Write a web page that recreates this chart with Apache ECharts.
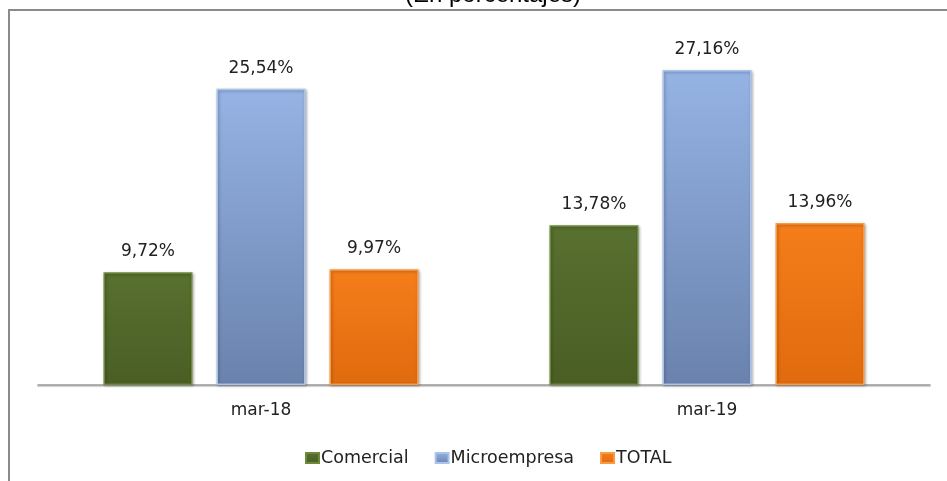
<!DOCTYPE html>
<html><head><meta charset="utf-8">
<script src="https://cdn.jsdelivr.net/npm/echarts@6/dist/echarts.min.js"></script>
<style>html,body{margin:0;padding:0;background:#fff}#c{width:947px;height:481px}</style>
</head><body><div id="c"></div>
<script>
var categories = ['mar-18', 'mar-19'];
var comercial = [9.72, 13.78];
var microempresa = [25.54, 27.16];
var total = [9.97, 13.96];
var seriesNames = ['Comercial', 'Microempresa', 'TOTAL'];

function grad(top, bottom) {
  return new echarts.graphic.LinearGradient(0, 0, 0, 1, [
    {offset: 0, color: top}, {offset: 1, color: bottom}
  ]);
}
function fmt(p) { return p.value.toFixed(2).replace('.', ',') + '%'; }
var FONT = 'DejaVu Sans';
var labelStyle = {show: true, position: 'top', distance: 12, formatter: fmt,
  fontFamily: FONT, fontSize: 17, color: '#222'};
function mk(name, data, top, bottom, border) {
  return {
    name: name, type: 'bar', data: data, barWidth: 89, barGap: '27%',
    itemStyle: {color: grad(top, bottom), borderColor: border, borderWidth: 1.5,
      shadowColor: 'rgba(0,0,0,0.3)', shadowBlur: 3, shadowOffsetX: 1, shadowOffsetY: 1},
    label: labelStyle
  };
}
var chart = echarts.init(document.getElementById('c'));
chart.setOption({
  animation: false,
  title: {text: '(En porcentajes)', left: 488, textAlign: 'center', top: -22,
    textStyle: {fontFamily: 'Liberation Sans', fontSize: 24, fontWeight: 'normal', color: '#000'}},
  graphic: [
    {type: 'polyline', shape: {points: [[9, 481], [9, 10], [947, 10]]},
     style: {stroke: '#8a8a8a', lineWidth: 2, fill: null}, silent: true, z: 100}
  ],
  grid: {left: 38, right: 17, top: 37, bottom: 96},
  legend: {
    data: seriesNames, top: 449, left: 305, itemWidth: 13, itemHeight: 10, itemGap: 26,
    padding: 0, icon: 'rect',
    textStyle: {fontFamily: FONT, fontSize: 17.5, color: '#222', padding: [0, 0, 0, -3]}
  },
  xAxis: {
    type: 'category', data: categories,
    axisLine: {lineStyle: {color: '#999', width: 1.5, shadowColor: 'rgba(0,0,0,0.25)', shadowOffsetY: 1, shadowBlur: 1}},
    axisTick: {show: false},
    axisLabel: {margin: 17, fontFamily: FONT, fontSize: 17, color: '#222'}
  },
  yAxis: {type: 'value', min: 0, max: 30, show: false, splitLine: {show: false}},
  series: [
    mk('Comercial', comercial, '#587030', '#4a5e24', '#6d8a3a'),
    mk('Microempresa', microempresa, '#95b3e4', '#6a82ad', '#a9c3ec'),
    mk('TOTAL', total, '#f57d1a', '#e06b0e', '#fa9a45')
  ]
});
</script></body></html>
